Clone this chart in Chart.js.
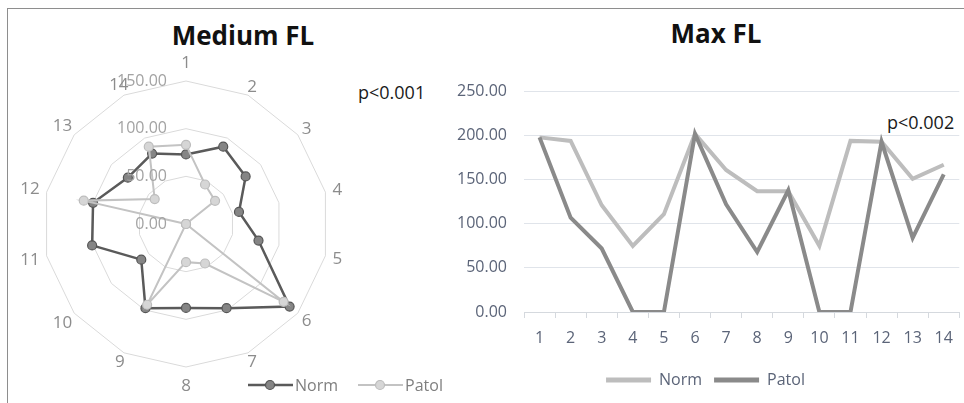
<!DOCTYPE html>
<html>
<head>
<meta charset="utf-8">
<script src="https://cdn.jsdelivr.net/npm/chart.js@4.4.1/dist/chart.umd.min.js"></script>
<style>
  body { margin: 0; background: #fff; font-family: 'Open Sans', sans-serif; }
  #page { position: relative; width: 964px; height: 403px; overflow: hidden; }
  #frame { position: absolute; left: 7px; top: 8px; right: -4px; bottom: -4px;
    border-top: 1.5px solid #8e8e8e; border-left: 1.5px solid #8e8e8e; }
  canvas { position: absolute; }
  #radar { left: 0; top: 40px; }
  #line { left: 450px; top: 0; }
  .title { position: absolute; font-weight: 700; font-size: 26px; color: #111;
    transform: translate(-50%, -50%); white-space: nowrap; }
  .note { position: absolute; font-size: 18px; color: #1a1a1a; white-space: nowrap;
    transform: translateY(-50%); }
  #radar-legend { position: absolute; left: 248px; top: 385px; transform: translateY(-50%);
    display: flex; align-items: center; font-size: 16px; color: #7f7f7f; }
  #radar-legend .item { display: flex; align-items: center; margin-right: 20px; }
  #radar-legend svg { margin-right: 2px; }
</style>
</head>
<body>
<div id="page">
  <div id="frame"></div>
  <div class="title" style="left:243px; top:35px;">Medium FL</div>
  <div class="title" style="left:716px; top:33px;">Max FL</div>
  <div class="note" style="left:358px; top:92px;">p&lt;0.001</div>
  <div class="note" style="left:887px; top:122px;">p&lt;0.002</div>
  <canvas id="radar" width="372" height="363"></canvas>
  <canvas id="line" width="514" height="403"></canvas>
  <div id="radar-legend"></div>
</div>
<script>
var categories = ['1', '2', '3', '4', '5', '6', '7', '8', '9', '10', '11', '12', '13', '14'];

// Medium FL (radar)
var mediumNorm = [73, 90, 80, 57, 78, 139, 98, 88, 98, 60, 101, 100, 78, 82];
var mediumPatol = [83, 46, 39, 0, 0, 131, 46, 40, 94, 0, 0, 110, 42, 90];
var radarTicks = [0, 50, 100, 150];

// Max FL (line)
var maxNorm = [198, 194, 121, 75, 111, 202, 161, 137, 137, 75, 194, 193, 151, 167];
var maxPatol = [198, 107, 72, 0, 0, 202, 122, 68, 138, 0, 0, 193, 84, 156];
var lineTicks = [0, 50, 100, 150, 200, 250];

var fontFamily = "'Open Sans', sans-serif";
var axisColor = '#5b6478';

// radial tick labels sit left of the vertical axis like in excel
// point labels are centred on their spoke, also excel style
var radarLabels = {
  id: 'radarLabels',
  afterDraw: function (chart) {
    var scale = chart.scales.r;
    var ctx = chart.ctx;
    ctx.save();
    ctx.font = '16px ' + fontFamily;
    ctx.fillStyle = '#a3a3a3';
    ctx.textAlign = 'right';
    ctx.textBaseline = 'middle';
    for (var i = 0; i < radarTicks.length; i++) {
      var y = scale.yCenter - scale.getDistanceFromCenterForValue(radarTicks[i]);
      ctx.fillText(radarTicks[i].toFixed(2), scale.xCenter - 19, y);
    }
    ctx.font = '17px ' + fontFamily;
    ctx.fillStyle = '#8c8c8c';
    ctx.textAlign = 'center';
    var n = categories.length;
    for (var j = 0; j < n; j++) {
      var a = scale.getIndexAngle(j);
      var w = ctx.measureText(categories[j]).width;
      var dist = scale.drawingArea + 7.5 + w / 2 * Math.abs(Math.sin(a));
      // top and bottom labels sit clear of the vertex
      if (Math.abs(Math.cos(a)) > 0.99) dist += 11;
      var p = scale.getPointPosition(j, dist);
      ctx.fillText(categories[j], p.x, p.y + 1);
    }
    ctx.restore();
  }
};

var radarChart = new Chart(document.getElementById('radar'), {
  type: 'radar',
  data: {
    labels: categories,
    datasets: [
      {
        label: 'Norm',
        data: mediumNorm,
        borderColor: '#5a5a5a',
        borderWidth: 2.5,
        backgroundColor: 'transparent',
        fill: false,
        pointBackgroundColor: '#858585',
        pointBorderColor: '#555555',
        pointBorderWidth: 1.2,
        pointRadius: 4.5,
        order: 1
      },
      {
        label: 'Patol',
        data: mediumPatol,
        borderColor: '#c3c3c3',
        borderWidth: 2,
        backgroundColor: 'transparent',
        fill: false,
        pointBackgroundColor: '#d6d6d6',
        pointBorderColor: '#bdbdbd',
        pointBorderWidth: 1.2,
        pointRadius: 4.5,
        order: 0
      }
    ]
  },
  options: {
    responsive: false,
    animation: false,
    layout: { padding: { left: 42.5, right: 42.5, top: 40.8, bottom: 35.2 } },
    plugins: {
      legend: { display: false },
      tooltip: { enabled: false }
    },
    scales: {
      r: {
        min: 0,
        max: 150,
        ticks: { stepSize: 50, display: false },
        grid: { color: '#dadada', lineWidth: 1 },
        angleLines: { display: false },
        pointLabels: { display: false }
      }
    }
  },
  plugins: [radarLabels]
});

// html legend for the radar: line with marker, like excel
function buildRadarLegend(chart) {
  var box = document.getElementById('radar-legend');
  box.innerHTML = '';
  chart.data.datasets.forEach(function (ds) {
    var item = document.createElement('div');
    item.className = 'item';
    item.innerHTML =
      '<svg width="45" height="12"><line x1="0" y1="6" x2="45" y2="6" stroke="' + ds.borderColor +
      '" stroke-width="' + ds.borderWidth + '"/><circle cx="22" cy="6" r="4.5" fill="' + ds.pointBackgroundColor +
      '" stroke="' + ds.pointBorderColor + '" stroke-width="1.2"/></svg><span>' + ds.label + '</span>';
    box.appendChild(item);
  });
}
buildRadarLegend(radarChart);

var lineChart = new Chart(document.getElementById('line'), {
  type: 'line',
  data: {
    labels: categories,
    datasets: [
      {
        label: 'Norm',
        data: maxNorm,
        borderColor: '#bdbdbd',
        backgroundColor: '#bdbdbd',
        borderWidth: 4,
        pointRadius: 0,
        tension: 0,
        order: 1
      },
      {
        label: 'Patol',
        data: maxPatol,
        borderColor: '#8a8a8a',
        backgroundColor: '#8a8a8a',
        borderWidth: 4,
        pointRadius: 0,
        tension: 0,
        order: 0
      }
    ]
  },
  options: {
    responsive: false,
    animation: false,
    layout: { padding: { left: 0, right: 3, top: 91.5, bottom: 5 } },
    plugins: {
      legend: {
        position: 'bottom',
        labels: {
          boxWidth: 45,
          boxHeight: 5,
          padding: 12,
          color: axisColor,
          font: { size: 16, family: fontFamily },
          sort: function (a, b) { return a.datasetIndex - b.datasetIndex; },
          generateLabels: function (chart) {
            var items = Chart.defaults.plugins.legend.labels.generateLabels(chart);
            items.forEach(function (it) { it.lineWidth = 0; });
            return items;
          }
        }
      },
      tooltip: { enabled: false }
    },
    scales: {
      x: {
        offset: true,
        grid: { offset: true, drawOnChartArea: false, drawTicks: true, tickLength: 6, color: '#d5d9de' },
        border: { color: '#d5d9de' },
        ticks: { padding: 11, color: axisColor, font: { size: 16, family: fontFamily } },
        afterFit: function (scale) { scale.height = 48; }
      },
      y: {
        min: lineTicks[0],
        max: lineTicks[lineTicks.length - 1],
        ticks: {
          stepSize: 50,
          padding: 17,
          color: axisColor,
          font: { size: 16, family: fontFamily },
          callback: function (v) { return v.toFixed(2); }
        },
        grid: { color: '#e0e4ea', drawTicks: false },
        border: { display: false },
        afterFit: function (scale) { scale.width = 74; }
      }
    }
  }
});
</script>
</body>
</html>
